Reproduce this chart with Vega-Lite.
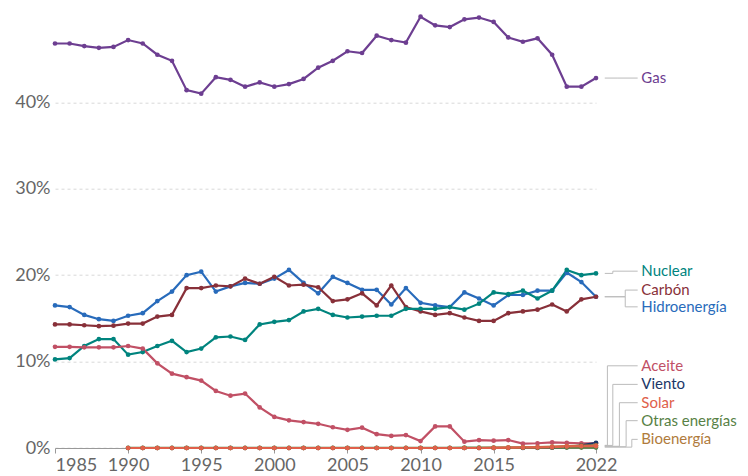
{
  "$schema": "https://vega.github.io/schema/vega-lite/v6.json",
  "autosize": "none",
  "width": 541,
  "height": 431.3,
  "padding": {"left": 55, "top": 16.7, "right": 152, "bottom": 28},
  "background": "white",
  "config": {
    "font": "Lato",
    "view": {"stroke": null}
  },
  "datasets": {
    "series": [
      {"year":1985,"source":"Gas","share":46.8},{"year":1986,"source":"Gas","share":46.8},{"year":1987,"source":"Gas","share":46.5},{"year":1988,"source":"Gas","share":46.3},{"year":1989,"source":"Gas","share":46.4},{"year":1990,"source":"Gas","share":47.2},{"year":1991,"source":"Gas","share":46.8},{"year":1992,"source":"Gas","share":45.5},{"year":1993,"source":"Gas","share":44.8},{"year":1994,"source":"Gas","share":41.4},
      {"year":1995,"source":"Gas","share":41.0},{"year":1996,"source":"Gas","share":42.9},{"year":1997,"source":"Gas","share":42.6},{"year":1998,"source":"Gas","share":41.8},{"year":1999,"source":"Gas","share":42.3},{"year":2000,"source":"Gas","share":41.8},{"year":2001,"source":"Gas","share":42.1},{"year":2002,"source":"Gas","share":42.7},{"year":2003,"source":"Gas","share":44.0},{"year":2004,"source":"Gas","share":44.8},
      {"year":2005,"source":"Gas","share":45.9},{"year":2006,"source":"Gas","share":45.7},{"year":2007,"source":"Gas","share":47.7},{"year":2008,"source":"Gas","share":47.2},{"year":2009,"source":"Gas","share":46.9},{"year":2010,"source":"Gas","share":49.9},{"year":2011,"source":"Gas","share":48.9},{"year":2012,"source":"Gas","share":48.7},{"year":2013,"source":"Gas","share":49.6},{"year":2014,"source":"Gas","share":49.8},
      {"year":2015,"source":"Gas","share":49.3},{"year":2016,"source":"Gas","share":47.5},{"year":2017,"source":"Gas","share":47.0},{"year":2018,"source":"Gas","share":47.4},{"year":2019,"source":"Gas","share":45.5},{"year":2020,"source":"Gas","share":41.8},{"year":2021,"source":"Gas","share":41.8},{"year":2022,"source":"Gas","share":42.8},

      {"year":1985,"source":"Hidroenergía","share":16.5},{"year":1986,"source":"Hidroenergía","share":16.3},{"year":1987,"source":"Hidroenergía","share":15.4},{"year":1988,"source":"Hidroenergía","share":14.9},{"year":1989,"source":"Hidroenergía","share":14.7},{"year":1990,"source":"Hidroenergía","share":15.3},{"year":1991,"source":"Hidroenergía","share":15.6},{"year":1992,"source":"Hidroenergía","share":17.0},{"year":1993,"source":"Hidroenergía","share":18.1},{"year":1994,"source":"Hidroenergía","share":20.0},
      {"year":1995,"source":"Hidroenergía","share":20.4},{"year":1996,"source":"Hidroenergía","share":18.1},{"year":1997,"source":"Hidroenergía","share":18.7},{"year":1998,"source":"Hidroenergía","share":19.1},{"year":1999,"source":"Hidroenergía","share":19.0},{"year":2000,"source":"Hidroenergía","share":19.6},{"year":2001,"source":"Hidroenergía","share":20.6},{"year":2002,"source":"Hidroenergía","share":19.1},{"year":2003,"source":"Hidroenergía","share":17.9},{"year":2004,"source":"Hidroenergía","share":19.8},
      {"year":2005,"source":"Hidroenergía","share":19.1},{"year":2006,"source":"Hidroenergía","share":18.3},{"year":2007,"source":"Hidroenergía","share":18.3},{"year":2008,"source":"Hidroenergía","share":16.6},{"year":2009,"source":"Hidroenergía","share":18.5},{"year":2010,"source":"Hidroenergía","share":16.8},{"year":2011,"source":"Hidroenergía","share":16.5},{"year":2012,"source":"Hidroenergía","share":16.3},{"year":2013,"source":"Hidroenergía","share":18.0},{"year":2014,"source":"Hidroenergía","share":17.3},
      {"year":2015,"source":"Hidroenergía","share":16.5},{"year":2016,"source":"Hidroenergía","share":17.7},{"year":2017,"source":"Hidroenergía","share":17.7},{"year":2018,"source":"Hidroenergía","share":18.2},{"year":2019,"source":"Hidroenergía","share":18.2},{"year":2020,"source":"Hidroenergía","share":20.3},{"year":2021,"source":"Hidroenergía","share":19.2},{"year":2022,"source":"Hidroenergía","share":17.5},

      {"year":1985,"source":"Carbón","share":14.3},{"year":1986,"source":"Carbón","share":14.3},{"year":1987,"source":"Carbón","share":14.2},{"year":1988,"source":"Carbón","share":14.1},{"year":1989,"source":"Carbón","share":14.15},{"year":1990,"source":"Carbón","share":14.4},{"year":1991,"source":"Carbón","share":14.4},{"year":1992,"source":"Carbón","share":15.2},{"year":1993,"source":"Carbón","share":15.4},{"year":1994,"source":"Carbón","share":18.5},
      {"year":1995,"source":"Carbón","share":18.5},{"year":1996,"source":"Carbón","share":18.8},{"year":1997,"source":"Carbón","share":18.7},{"year":1998,"source":"Carbón","share":19.6},{"year":1999,"source":"Carbón","share":19.0},{"year":2000,"source":"Carbón","share":19.8},{"year":2001,"source":"Carbón","share":18.8},{"year":2002,"source":"Carbón","share":18.9},{"year":2003,"source":"Carbón","share":18.6},{"year":2004,"source":"Carbón","share":17.0},
      {"year":2005,"source":"Carbón","share":17.2},{"year":2006,"source":"Carbón","share":17.9},{"year":2007,"source":"Carbón","share":16.5},{"year":2008,"source":"Carbón","share":18.8},{"year":2009,"source":"Carbón","share":16.3},{"year":2010,"source":"Carbón","share":15.8},{"year":2011,"source":"Carbón","share":15.4},{"year":2012,"source":"Carbón","share":15.6},{"year":2013,"source":"Carbón","share":15.1},{"year":2014,"source":"Carbón","share":14.7},
      {"year":2015,"source":"Carbón","share":14.7},{"year":2016,"source":"Carbón","share":15.6},{"year":2017,"source":"Carbón","share":15.8},{"year":2018,"source":"Carbón","share":16.0},{"year":2019,"source":"Carbón","share":16.6},{"year":2020,"source":"Carbón","share":15.8},{"year":2021,"source":"Carbón","share":17.2},{"year":2022,"source":"Carbón","share":17.5},

      {"year":1985,"source":"Nuclear","share":10.25},{"year":1986,"source":"Nuclear","share":10.4},{"year":1987,"source":"Nuclear","share":11.8},{"year":1988,"source":"Nuclear","share":12.6},{"year":1989,"source":"Nuclear","share":12.6},{"year":1990,"source":"Nuclear","share":10.8},{"year":1991,"source":"Nuclear","share":11.1},{"year":1992,"source":"Nuclear","share":11.8},{"year":1993,"source":"Nuclear","share":12.4},{"year":1994,"source":"Nuclear","share":11.1},
      {"year":1995,"source":"Nuclear","share":11.5},{"year":1996,"source":"Nuclear","share":12.8},{"year":1997,"source":"Nuclear","share":12.9},{"year":1998,"source":"Nuclear","share":12.5},{"year":1999,"source":"Nuclear","share":14.3},{"year":2000,"source":"Nuclear","share":14.6},{"year":2001,"source":"Nuclear","share":14.8},{"year":2002,"source":"Nuclear","share":15.8},{"year":2003,"source":"Nuclear","share":16.1},{"year":2004,"source":"Nuclear","share":15.4},
      {"year":2005,"source":"Nuclear","share":15.1},{"year":2006,"source":"Nuclear","share":15.2},{"year":2007,"source":"Nuclear","share":15.3},{"year":2008,"source":"Nuclear","share":15.3},{"year":2009,"source":"Nuclear","share":16.1},{"year":2010,"source":"Nuclear","share":16.1},{"year":2011,"source":"Nuclear","share":16.1},{"year":2012,"source":"Nuclear","share":16.3},{"year":2013,"source":"Nuclear","share":16.0},{"year":2014,"source":"Nuclear","share":16.7},
      {"year":2015,"source":"Nuclear","share":18.0},{"year":2016,"source":"Nuclear","share":17.8},{"year":2017,"source":"Nuclear","share":18.2},{"year":2018,"source":"Nuclear","share":17.3},{"year":2019,"source":"Nuclear","share":18.2},{"year":2020,"source":"Nuclear","share":20.6},{"year":2021,"source":"Nuclear","share":20.0},{"year":2022,"source":"Nuclear","share":20.2},

      {"year":1985,"source":"Aceite","share":11.7},{"year":1986,"source":"Aceite","share":11.7},{"year":1987,"source":"Aceite","share":11.65},{"year":1988,"source":"Aceite","share":11.65},{"year":1989,"source":"Aceite","share":11.65},{"year":1990,"source":"Aceite","share":11.8},{"year":1991,"source":"Aceite","share":11.5},{"year":1992,"source":"Aceite","share":9.8},{"year":1993,"source":"Aceite","share":8.6},{"year":1994,"source":"Aceite","share":8.2},
      {"year":1995,"source":"Aceite","share":7.8},{"year":1996,"source":"Aceite","share":6.6},{"year":1997,"source":"Aceite","share":6.05},{"year":1998,"source":"Aceite","share":6.3},{"year":1999,"source":"Aceite","share":4.7},{"year":2000,"source":"Aceite","share":3.6},{"year":2001,"source":"Aceite","share":3.2},{"year":2002,"source":"Aceite","share":3.0},{"year":2003,"source":"Aceite","share":2.8},{"year":2004,"source":"Aceite","share":2.4},
      {"year":2005,"source":"Aceite","share":2.1},{"year":2006,"source":"Aceite","share":2.35},{"year":2007,"source":"Aceite","share":1.6},{"year":2008,"source":"Aceite","share":1.4},{"year":2009,"source":"Aceite","share":1.5},{"year":2010,"source":"Aceite","share":0.8},{"year":2011,"source":"Aceite","share":2.5},{"year":2012,"source":"Aceite","share":2.5},{"year":2013,"source":"Aceite","share":0.73},{"year":2014,"source":"Aceite","share":0.92},
      {"year":2015,"source":"Aceite","share":0.85},{"year":2016,"source":"Aceite","share":0.92},{"year":2017,"source":"Aceite","share":0.5},{"year":2018,"source":"Aceite","share":0.55},{"year":2019,"source":"Aceite","share":0.65},{"year":2020,"source":"Aceite","share":0.6},{"year":2021,"source":"Aceite","share":0.55},{"year":2022,"source":"Aceite","share":0.55},

      {"year":1990,"source":"Viento","share":0.0},{"year":1991,"source":"Viento","share":0.0},{"year":1992,"source":"Viento","share":0.0},{"year":1993,"source":"Viento","share":0.0},{"year":1994,"source":"Viento","share":0.0},{"year":1995,"source":"Viento","share":0.0},{"year":1996,"source":"Viento","share":0.0},{"year":1997,"source":"Viento","share":0.0},{"year":1998,"source":"Viento","share":0.0},{"year":1999,"source":"Viento","share":0.0},
      {"year":2000,"source":"Viento","share":0.0},{"year":2001,"source":"Viento","share":0.0},{"year":2002,"source":"Viento","share":0.0},{"year":2003,"source":"Viento","share":0.0},{"year":2004,"source":"Viento","share":0.0},{"year":2005,"source":"Viento","share":0.0},{"year":2006,"source":"Viento","share":0.0},{"year":2007,"source":"Viento","share":0.0},{"year":2008,"source":"Viento","share":0.0},{"year":2009,"source":"Viento","share":0.0},
      {"year":2010,"source":"Viento","share":0.0},{"year":2011,"source":"Viento","share":0.0},{"year":2012,"source":"Viento","share":0.0},{"year":2013,"source":"Viento","share":0.0},{"year":2014,"source":"Viento","share":0.0},{"year":2015,"source":"Viento","share":0.0},{"year":2016,"source":"Viento","share":0.0},{"year":2017,"source":"Viento","share":0.01},{"year":2018,"source":"Viento","share":0.02},{"year":2019,"source":"Viento","share":0.03},
      {"year":2020,"source":"Viento","share":0.1},{"year":2021,"source":"Viento","share":0.3},{"year":2022,"source":"Viento","share":0.6},

      {"year":1990,"source":"Otras energías","share":0.02},{"year":1991,"source":"Otras energías","share":0.02},{"year":1992,"source":"Otras energías","share":0.02},{"year":1993,"source":"Otras energías","share":0.02},{"year":1994,"source":"Otras energías","share":0.02},{"year":1995,"source":"Otras energías","share":0.02},{"year":1996,"source":"Otras energías","share":0.02},{"year":1997,"source":"Otras energías","share":0.02},{"year":1998,"source":"Otras energías","share":0.02},{"year":1999,"source":"Otras energías","share":0.02},
      {"year":2000,"source":"Otras energías","share":0.02},{"year":2001,"source":"Otras energías","share":0.02},{"year":2002,"source":"Otras energías","share":0.02},{"year":2003,"source":"Otras energías","share":0.03},{"year":2004,"source":"Otras energías","share":0.03},{"year":2005,"source":"Otras energías","share":0.03},{"year":2006,"source":"Otras energías","share":0.03},{"year":2007,"source":"Otras energías","share":0.03},{"year":2008,"source":"Otras energías","share":0.03},{"year":2009,"source":"Otras energías","share":0.03},
      {"year":2010,"source":"Otras energías","share":0.03},{"year":2011,"source":"Otras energías","share":0.03},{"year":2012,"source":"Otras energías","share":0.03},{"year":2013,"source":"Otras energías","share":0.04},{"year":2014,"source":"Otras energías","share":0.04},{"year":2015,"source":"Otras energías","share":0.04},{"year":2016,"source":"Otras energías","share":0.04},{"year":2017,"source":"Otras energías","share":0.04},{"year":2018,"source":"Otras energías","share":0.04},{"year":2019,"source":"Otras energías","share":0.05},
      {"year":2020,"source":"Otras energías","share":0.05},{"year":2021,"source":"Otras energías","share":0.05},{"year":2022,"source":"Otras energías","share":0.05},

      {"year":1990,"source":"Bioenergía","share":0.0},{"year":1991,"source":"Bioenergía","share":0.0},{"year":1992,"source":"Bioenergía","share":0.0},{"year":1993,"source":"Bioenergía","share":0.0},{"year":1994,"source":"Bioenergía","share":0.0},{"year":1995,"source":"Bioenergía","share":0.0},{"year":1996,"source":"Bioenergía","share":0.0},{"year":1997,"source":"Bioenergía","share":0.0},{"year":1998,"source":"Bioenergía","share":0.0},{"year":1999,"source":"Bioenergía","share":0.0},
      {"year":2000,"source":"Bioenergía","share":0.0},{"year":2001,"source":"Bioenergía","share":0.0},{"year":2002,"source":"Bioenergía","share":0.0},{"year":2003,"source":"Bioenergía","share":0.0},{"year":2004,"source":"Bioenergía","share":0.0},{"year":2005,"source":"Bioenergía","share":0.0},{"year":2006,"source":"Bioenergía","share":0.0},{"year":2007,"source":"Bioenergía","share":0.0},{"year":2008,"source":"Bioenergía","share":0.0},{"year":2009,"source":"Bioenergía","share":0.0},
      {"year":2010,"source":"Bioenergía","share":0.0},{"year":2011,"source":"Bioenergía","share":0.0},{"year":2012,"source":"Bioenergía","share":0.0},{"year":2013,"source":"Bioenergía","share":0.0},{"year":2014,"source":"Bioenergía","share":0.0},{"year":2015,"source":"Bioenergía","share":0.02},{"year":2016,"source":"Bioenergía","share":0.05},{"year":2017,"source":"Bioenergía","share":0.08},{"year":2018,"source":"Bioenergía","share":0.1},{"year":2019,"source":"Bioenergía","share":0.15},
      {"year":2020,"source":"Bioenergía","share":0.22},{"year":2021,"source":"Bioenergía","share":0.28},{"year":2022,"source":"Bioenergía","share":0.3},

      {"year":1990,"source":"Solar","share":0.0},{"year":1991,"source":"Solar","share":0.0},{"year":1992,"source":"Solar","share":0.0},{"year":1993,"source":"Solar","share":0.0},{"year":1994,"source":"Solar","share":0.0},{"year":1995,"source":"Solar","share":0.0},{"year":1996,"source":"Solar","share":0.0},{"year":1997,"source":"Solar","share":0.0},{"year":1998,"source":"Solar","share":0.0},{"year":1999,"source":"Solar","share":0.0},
      {"year":2000,"source":"Solar","share":0.0},{"year":2001,"source":"Solar","share":0.0},{"year":2002,"source":"Solar","share":0.0},{"year":2003,"source":"Solar","share":0.0},{"year":2004,"source":"Solar","share":0.0},{"year":2005,"source":"Solar","share":0.0},{"year":2006,"source":"Solar","share":0.0},{"year":2007,"source":"Solar","share":0.0},{"year":2008,"source":"Solar","share":0.0},{"year":2009,"source":"Solar","share":0.0},
      {"year":2010,"source":"Solar","share":0.0},{"year":2011,"source":"Solar","share":0.0},{"year":2012,"source":"Solar","share":0.0},{"year":2013,"source":"Solar","share":0.0},{"year":2014,"source":"Solar","share":0.0},{"year":2015,"source":"Solar","share":0.02},{"year":2016,"source":"Solar","share":0.04},{"year":2017,"source":"Solar","share":0.06},{"year":2018,"source":"Solar","share":0.08},{"year":2019,"source":"Solar","share":0.1},
      {"year":2020,"source":"Solar","share":0.18},{"year":2021,"source":"Solar","share":0.2},{"year":2022,"source":"Solar","share":0.22}
    ],
    "labels": [
      {"source":"Gas","end":42.8,"labelY":42.8,"elbow":2023.5},
      {"source":"Nuclear","end":20.2,"labelY":20.46,"elbow":2023.15},
      {"source":"Carbón","end":17.5,"labelY":18.27,"elbow":2024.0},
      {"source":"Hidroenergía","end":17.5,"labelY":16.33,"elbow":2024.0},
      {"source":"Aceite","end":0.3,"labelY":9.51,"elbow":2022.78},
      {"source":"Viento","end":0.3,"labelY":7.36,"elbow":2023.15},
      {"source":"Solar","end":0.2,"labelY":5.24,"elbow":2023.6},
      {"source":"Otras energías","end":0.15,"labelY":3.16,"elbow":2024.06},
      {"source":"Bioenergía","end":0.1,"labelY":1.0,"elbow":2024.45}
    ]
  },
  "layer": [
    {
      "data": {"name": "series"},
      "mark": {"type": "line", "strokeWidth": 2.2, "point": {"filled": true, "size": 22}},
      "encoding": {
        "x": {
          "field": "year", "type": "quantitative",
          "scale": {"domain": [1985, 2022], "nice": false, "zero": false},
          "axis": {
            "title": null,
            "values": [1985, 1990, 1995, 2000, 2005, 2010, 2015, 2022],
            "format": "d",
            "grid": false,
            "domain": true,
            "domainColor": "#999",
            "domainWidth": 1,
            "ticks": true,
            "tickColor": "#999",
            "tickSize": 5,
            "labelFont": "Lato",
            "labelFontSize": 18,
            "labelColor": "#666",
            "labelPadding": 3,
            "labelAlign": {"expr": "datum.value == 1985 ? 'left' : 'center'"},
            "labelFlush": false,
            "labelOverlap": false
          }
        },
        "y": {
          "field": "share", "type": "quantitative",
          "scale": {"domain": [0, 49.9], "nice": false},
          "axis": {
            "title": null,
            "values": [0, 10, 20, 30, 40],
            "labelExpr": "datum.value + '%'",
            "domain": false,
            "ticks": false,
            "grid": true,
            "gridColor": "#d8d8d8",
            "gridDash": [3, 3],
            "labelFont": "Lato",
            "labelFontSize": 18,
            "labelColor": "#666",
            "labelPadding": 5
          }
        },
        "color": {
          "field": "source", "type": "nominal", "legend": null,
          "scale": {
            "domain": ["Gas", "Nuclear", "Carbón", "Hidroenergía", "Aceite", "Viento", "Solar", "Otras energías", "Bioenergía"],
            "range": ["#6D3E91", "#00847E", "#883039", "#286BBB", "#C15065", "#1B3768", "#E0604A", "#578145", "#B07B3C"]
          }
        }
      }
    },
    {
      "data": {"name": "labels"},
      "mark": {"type": "rule", "color": "#bbbbbb", "strokeWidth": 1},
      "encoding": {
        "x": {"field": "elbow", "type": "quantitative"},
        "x2": {"datum": 2022.6},
        "y": {"field": "end", "type": "quantitative"}
      }
    },
    {
      "data": {"name": "labels"},
      "mark": {"type": "rule", "color": "#bbbbbb", "strokeWidth": 1},
      "encoding": {
        "x": {"field": "elbow", "type": "quantitative"},
        "y": {"field": "end", "type": "quantitative"},
        "y2": {"field": "labelY"}
      }
    },
    {
      "data": {"name": "labels"},
      "mark": {"type": "rule", "color": "#bbbbbb", "strokeWidth": 1},
      "encoding": {
        "x": {"field": "elbow", "type": "quantitative"},
        "x2": {"datum": 2024.85},
        "y": {"field": "labelY", "type": "quantitative"}
      }
    },
    {
      "data": {"name": "labels"},
      "mark": {"type": "text", "align": "left", "baseline": "middle", "font": "Lato", "fontSize": 15},
      "encoding": {
        "x": {"datum": 2025.1},
        "y": {"field": "labelY", "type": "quantitative"},
        "text": {"field": "source", "type": "nominal"},
        "color": {"field": "source", "type": "nominal", "legend": null}
      }
    }
  ]
}
